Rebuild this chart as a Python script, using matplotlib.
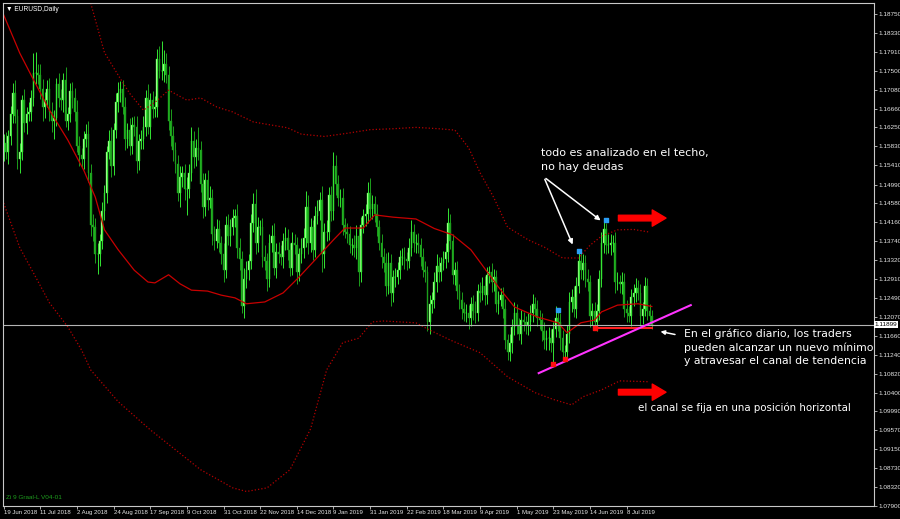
"import modules"
import numpy as np
import matplotlib.pyplot as plt

# =============================================================================
# Data (EURUSD daily, 19 Jun 2018 - Jul 2019)
# =============================================================================

# open of the first bar, then daily closes (one value per bar)
first_open = 1.1570
closes = [
    1.1590, 1.1570, 1.1605, 1.1655, 1.1700, 1.1650, 1.1555, 1.1570, 1.1685, 1.1635,
    1.1655, 1.1660, 1.1690, 1.1745, 1.1745, 1.1740, 1.1710, 1.1670, 1.1685, 1.1710,
    1.1660, 1.1640, 1.1645, 1.1720, 1.1690, 1.1685, 1.1730, 1.1640, 1.1655, 1.1705,
    1.1690, 1.1660, 1.1585, 1.1565, 1.1555, 1.1600, 1.1610, 1.1525, 1.1410, 1.1405,
    1.1345, 1.1345, 1.1375, 1.1440, 1.1480, 1.1570, 1.1595, 1.1540, 1.1620, 1.1680,
    1.1700, 1.1710, 1.1670, 1.1600, 1.1620, 1.1585, 1.1630, 1.1625, 1.1550, 1.1595,
    1.1600, 1.1625, 1.1690, 1.1625, 1.1685, 1.1665, 1.1670, 1.1775, 1.1750, 1.1750,
    1.1765, 1.1740, 1.1640, 1.1605, 1.1575, 1.1545, 1.1480, 1.1515, 1.1525, 1.1490,
    1.1490, 1.1525, 1.1595, 1.1560, 1.1580, 1.1575, 1.1500, 1.1450, 1.1510, 1.1465,
    1.1470, 1.1390, 1.1375, 1.1400, 1.1370, 1.1345, 1.1310, 1.1410, 1.1385, 1.1405,
    1.1425, 1.1430, 1.1360, 1.1335, 1.1230, 1.1290, 1.1310, 1.1330, 1.1415, 1.1455,
    1.1370, 1.1405, 1.1405, 1.1340, 1.1330, 1.1290, 1.1370, 1.1385, 1.1315, 1.1350,
    1.1345, 1.1340, 1.1375, 1.1380, 1.1355, 1.1315, 1.1370, 1.1365, 1.1305, 1.1345,
    1.1360, 1.1380, 1.1450, 1.1370, 1.1405, 1.1355, 1.1430, 1.1440, 1.1465, 1.1345,
    1.1395, 1.1395, 1.1475, 1.1440, 1.1540, 1.1500, 1.1470, 1.1470, 1.1410, 1.1395,
    1.1390, 1.1365, 1.1365, 1.1360, 1.1385, 1.1305, 1.1410, 1.1430, 1.1435, 1.1480,
    1.1445, 1.1455, 1.1435, 1.1405, 1.1370, 1.1340, 1.1325, 1.1275, 1.1325, 1.1260,
    1.1295, 1.1295, 1.1310, 1.1340, 1.1340, 1.1335, 1.1330, 1.1360, 1.1395, 1.1370,
    1.1370, 1.1365, 1.1340, 1.1310, 1.1305, 1.1195, 1.1235, 1.1245, 1.1285, 1.1320,
    1.1305, 1.1325, 1.1335, 1.1350, 1.1415, 1.1375, 1.1300, 1.1310, 1.1265, 1.1245,
    1.1225, 1.1215, 1.1215, 1.1205, 1.1235, 1.1220, 1.1215, 1.1265, 1.1260, 1.1275,
    1.1255, 1.1300, 1.1305, 1.1285, 1.1295, 1.1235, 1.1245, 1.1255, 1.1225, 1.1155,
    1.1130, 1.1150, 1.1185, 1.1215, 1.1190, 1.1170, 1.1200, 1.1195, 1.1190, 1.1195,
    1.1215, 1.1235, 1.1225, 1.1205, 1.1200, 1.1175, 1.1155, 1.1160, 1.1160, 1.1150,
    1.1180, 1.1205, 1.1195, 1.1160, 1.1130, 1.1130, 1.1170, 1.1240, 1.1250, 1.1225,
    1.1275, 1.1330, 1.1310, 1.1325, 1.1290, 1.1285, 1.1210, 1.1220, 1.1195, 1.1220,
    1.1290, 1.1370, 1.1400, 1.1365, 1.1365, 1.1370, 1.1370, 1.1285, 1.1285, 1.1280,
    1.1285, 1.1225, 1.1215, 1.1210, 1.1250, 1.1260, 1.1270, 1.1260, 1.1210, 1.1225,
    1.1275, 1.1220, 1.1210, 1.1190,
]

# wick lengths in pips above / below the candle body
upper_wick = [
    20, 25, 15, 18, 22, 30, 15, 20, 12, 25, 15, 20, 18, 45, 46, 20, 25, 22, 18, 20,
    25, 20, 18, 15, 25, 20, 15, 28, 15, 18, 20, 22, 25, 20, 15, 18, 22, 30, 20, 25,
    20, 25, 15, 20, 18, 15, 25, 30, 15, 20, 25, 18, 20, 22, 15, 25, 18, 20, 25, 15,
    20, 25, 18, 30, 15, 20, 25, 22, 30, 65, 30, 25, 20, 25, 22, 18, 20, 25, 15, 20,
    25, 20, 30, 22, 20, 45, 20, 25, 15, 20, 25, 20, 18, 22, 20, 15, 25, 20, 25, 18,
    20, 15, 25, 20, 18, 25, 20, 15, 20, 25, 35, 22, 15, 20, 25, 18, 20, 25, 30, 20,
    22, 20, 18, 25, 20, 15, 25, 20, 18, 15, 20, 22, 35, 25, 20, 15, 22, 25, 18, 30,
    20, 25, 18, 20, 30, 25, 20, 18, 22, 15, 20, 18, 15, 22, 25, 20, 18, 15, 20, 25,
    34, 20, 18, 22, 15, 20, 18, 22, 25, 20, 15, 20, 18, 15, 20, 22, 15, 20, 25, 18,
    20, 22, 15, 18, 20, 15, 20, 18, 22, 25, 20, 15, 18, 20, 33, 20, 15, 18, 20, 15,
    18, 15, 20, 18, 15, 20, 22, 15, 18, 20, 22, 18, 15, 20, 18, 15, 20, 15, 18, 22,
    15, 20, 18, 25, 20, 15, 22, 18, 15, 20, 18, 22, 15, 20, 18, 15, 20, 18, 25, 20,
    15, 25, 20, 20, 18, 15, 20, 22, 18, 25, 20, 18, 25, 20, 18, 22, 15, 18, 20, 15,
    20, 25, 22, 14, 25, 20, 18, 25, 20, 15, 22, 18, 20, 15, 18, 20, 22, 18, 20, 15,
    20, 18, 15, 12,
]
lower_wick = [
    20, 15, 25, 18, 20, 15, 22, 30, 18, 20, 25, 15, 20, 18, 25, 20, 22, 30, 25, 15,
    20, 25, 40, 18, 20, 22, 25, 15, 20, 18, 22, 20, 15, 25, 20, 22, 18, 20, 25, 30,
    20, 44, 25, 18, 20, 22, 15, 25, 20, 18, 22, 20, 15, 25, 20, 22, 18, 20, 25, 20,
    18, 22, 20, 15, 25, 20, 18, 22, 15, 20, 25, 18, 20, 22, 25, 20, 18, 30, 22, 25,
    58, 20, 18, 25, 20, 22, 18, 25, 20, 22, 18, 25, 20, 15, 20, 22, 25, 18, 20, 22,
    18, 20, 22, 25, 14, 25, 20, 22, 18, 20, 25, 20, 18, 22, 20, 25, 18, 20, 15, 22,
    20, 18, 25, 20, 22, 18, 15, 20, 25, 18, 20, 22, 18, 25, 20, 22, 15, 18, 20, 40,
    30, 20, 18, 22, 20, 25, 18, 20, 22, 15, 20, 18, 22, 20, 25, 30, 20, 18, 22, 20,
    20, 22, 18, 20, 15, 25, 20, 22, 18, 30, 20, 22, 15, 20, 18, 22, 20, 15, 18, 20,
    22, 18, 20, 15, 22, 19, 25, 20, 18, 22, 20, 18, 15, 20, 22, 18, 20, 22, 18, 20,
    22, 18, 20, 25, 18, 20, 22, 18, 20, 15, 22, 20, 18, 22, 20, 18, 22, 15, 20, 18,
    19, 20, 22, 18, 20, 15, 22, 18, 20, 22, 18, 20, 15, 18, 20, 22, 18, 20, 25, 20,
    44, 18, 20, 25, 20, 14, 18, 20, 22, 18, 20, 15, 20, 22, 18, 20, 25, 20, 14, 18,
    20, 18, 22, 20, 18, 22, 20, 25, 18, 20, 22, 18, 20, 15, 22, 18, 20, 15, 22, 18,
    15, 20, 18, 10,
]

# date labels of the time axis (one every 16 bars)
date_bars = [0, 16, 32, 48, 64, 80, 96, 112, 128, 144, 160, 176, 192, 208,
             224, 240, 256, 272]
date_labels = ["19 Jun 2018", "11 Jul 2018", "2 Aug 2018", "24 Aug 2018",
               "17 Sep 2018", "9 Oct 2018", "31 Oct 2018", "22 Nov 2018",
               "14 Dec 2018", "9 Jan 2019", "31 Jan 2019", "22 Feb 2019",
               "18 Mar 2019", "9 Apr 2019", "1 May 2019", "23 May 2019",
               "14 Jun 2019", "8 Jul 2019"]

# price scale labels
price_ticks = [1.18750, 1.18330, 1.17910, 1.17500, 1.17080, 1.16660, 1.16250,
               1.15830, 1.15410, 1.14990, 1.14580, 1.14160, 1.13740, 1.13320,
               1.12910, 1.12490, 1.12070, 1.11660, 1.11240, 1.10820, 1.10400,
               1.09990, 1.09570, 1.09150, 1.08730, 1.08320, 1.07900]
last_price = 1.11899

# red moving average (solid)
ma_bars = [0, 7, 13, 20, 28, 35, 40, 44, 50, 57, 63, 66, 72, 77, 82, 89, 95,
           101, 106, 114, 122, 129, 136, 144, 149, 157, 162, 170, 180, 188,
           196, 204, 216, 223, 233, 242, 246, 252, 258, 261, 268, 277, 283]
ma_vals = [1.1873, 1.1789, 1.1730, 1.1663, 1.1597, 1.1530, 1.1471, 1.1399,
           1.1355, 1.1310, 1.1284, 1.1282, 1.1300, 1.1280, 1.1266, 1.1264,
           1.1255, 1.1249, 1.1236, 1.1240, 1.1260, 1.1295, 1.1333, 1.1377,
           1.1403, 1.1403, 1.1432, 1.1427, 1.1423, 1.1402, 1.1388, 1.1355,
           1.1273, 1.1229, 1.1207, 1.1194, 1.1172, 1.1194, 1.1200, 1.1218,
           1.1233, 1.1236, 1.1230]

# upper and lower dotted channel
ub_bars = [38, 44, 50, 55, 61, 66, 72, 80, 86, 93, 100, 109, 117, 124, 130,
           140, 150, 160, 170, 180, 190, 197, 203, 208, 214, 220, 229, 236,
           244, 251, 256, 261, 268, 275, 282]
ub_vals = [1.1899, 1.1790, 1.1740, 1.1700, 1.1663, 1.1680, 1.1707, 1.1685,
           1.1690, 1.1670, 1.1659, 1.1637, 1.1630, 1.1624, 1.1610, 1.1605,
           1.1612, 1.1620, 1.1622, 1.1625, 1.1622, 1.1619, 1.1580, 1.1525,
           1.1470, 1.1405, 1.1377, 1.1361, 1.1337, 1.1337, 1.1365, 1.1385,
           1.1399, 1.1400, 1.1394]
lb_bars = [0, 7, 13, 20, 28, 34, 38, 50, 64, 86, 100, 106, 115, 125, 134, 141,
           148, 155, 161, 166, 180, 186, 195, 208, 220, 232, 240, 248, 253,
           261, 269, 282]
lb_vals = [1.1458, 1.1360, 1.1304, 1.1238, 1.1185, 1.1134, 1.1090, 1.1020,
           1.0958, 1.0870, 1.0830, 1.0822, 1.0830, 1.0870, 1.0960, 1.1090,
           1.1150, 1.1160, 1.1196, 1.1198, 1.1194, 1.1178, 1.1156, 1.1128,
           1.1075, 1.1040, 1.1025, 1.1013, 1.1031, 1.1046, 1.1066, 1.1064]

# fractal markers
top_bars = [242, 251, 263]
top_prices = [1.1222, 1.1352, 1.1420]
bottom_bars = [240, 245, 258]
bottom_prices = [1.1104, 1.1115, 1.1182]

# drawn lines: horizontal support and rising trend line
support_bars = [258, 283]
support_price = 1.1182
trend_bars = [233.6, 300]
trend_prices = [1.1083, 1.1233]

# =============================================================================
# Build the candles
# =============================================================================
closes = np.array(closes)
opens = np.r_[first_open, closes[:-1]]
highs = np.maximum(opens, closes) + np.array(upper_wick) * 0.0001
lows = np.minimum(opens, closes) - np.array(lower_wick) * 0.0001
bars = np.arange(len(closes))
up = closes >= opens

small_font = ["Liberation Sans Narrow", "Liberation Sans", "DejaVu Sans"]

fig = plt.figure(figsize=(9, 5.19), dpi=100, facecolor="black")
ax = fig.add_axes([3 / 900, 13 / 519, 871 / 900, 503 / 519], facecolor="black")

# wicks
ax.vlines(bars[up], lows[up], highs[up], color="#33e633", linewidth=0.7)
ax.vlines(bars[~up], lows[~up], highs[~up], color="#1c9e1c", linewidth=0.7)
# bodies
ax.bar(bars[up], closes[up] - opens[up], bottom=opens[up], width=0.75,
       color="#b8ffa0", edgecolor="#33e633", linewidth=0.3)
ax.bar(bars[~up], opens[~up] - closes[~up], bottom=closes[~up], width=0.75,
       color="#22b422", edgecolor="#1c9e1c", linewidth=0.3)

# indicator lines
ax.plot(ma_bars, ma_vals, color="#c80000", linewidth=0.9)
ax.plot(ub_bars, ub_vals, color="#b40000", linewidth=0.9, linestyle=":")
ax.plot(lb_bars, lb_vals, color="#b40000", linewidth=0.9, linestyle=":")

# current price line
ax.axhline(last_price, color="#b4b4b4", linewidth=0.8)

# fractal markers
ax.scatter(top_bars, top_prices, marker="s", s=7, color="#2a9df4", zorder=5)
ax.scatter(bottom_bars, bottom_prices, marker="s", s=7, color="#ff1010",
           zorder=5)

# support line and trend line
ax.plot(support_bars, [support_price, support_price], color="#ff2020",
        linewidth=1.5)
ax.plot(trend_bars, trend_prices, color="#ff33ff", linewidth=1.5,
        clip_on=False)

# =============================================================================
# Annotations
# =============================================================================
ax.text(234.5, 1.1579, "todo es analizado en el techo,\nno hay deudas",
        va="top", ha="left", linespacing=1.5, color="white", fontsize=8,
        family="DejaVu Sans")
for tip in [(248.9, 1.1361), (261.6, 1.1416)]:
    ax.annotate("", xy=tip, xytext=(235.8, 1.1516),
                arrowprops=dict(arrowstyle="-|>", color="white", lw=1.1,
                                mutation_scale=7))

ax.text(297, 1.1181, "En el gráfico diario, los traders\n"
        "pueden alcanzar un nuevo mínimo\ny atravesar el canal de tendencia",
        va="top", ha="left", linespacing=1.4, color="white", fontsize=7.8,
        family="DejaVu Sans")
ax.annotate("", xy=(285.6, 1.1176), xytext=(294.3, 1.1167),
            arrowprops=dict(arrowstyle="-|>", color="white", lw=1.1,
                            mutation_scale=6))

ax.text(276.9, 1.1006, "el canal se fija en una posición horizontal",
        va="center", ha="left", color="white", fontsize=7.4,
        family="DejaVu Sans")

# red arrows
for y in [1.1425, 1.1041]:
    ax.annotate("", xy=(290.4, y), xytext=(267.2, y),
                arrowprops=dict(arrowstyle="simple,head_length=1.1,"
                                "head_width=1.3,tail_width=0.45",
                                color="#ff0000", mutation_scale=9))

# chart name and indicator name
ax.text(0.004, 0.994, "\u25bc EURUSD,Daily", transform=ax.transAxes,
        va="top", ha="left", color="white", fontsize=4.8, family=small_font)
ax.text(0.003, 0.012, "Zi 9 Graal-L V04-01", transform=ax.transAxes,
        va="bottom", ha="left", color="#1e9e1e", fontsize=4.6,
        family=small_font)

# =============================================================================
# Axes styling
# =============================================================================
ax.set_xlim(-0.3, 380)
ax.set_ylim(1.0790, 1.18993)

ax.yaxis.tick_right()
ax.set_yticks(price_ticks)
ax.set_yticklabels(["%.5f" % p for p in price_ticks])
ax.set_xticks(date_bars)
ax.set_xticklabels(date_labels)
ax.tick_params(axis="both", colors="#c8c8c8", labelcolor="#e6e6e6",
               length=2, width=0.6, pad=1)
ax.tick_params(axis="y", labelsize=4.6)
ax.tick_params(axis="x", labelsize=4.3)
for label in ax.get_xticklabels() + ax.get_yticklabels():
    label.set_family(small_font)
for label in ax.get_xticklabels():
    label.set_ha("left")

for spine in ax.spines.values():
    spine.set_color("#c8c8c8")
    spine.set_linewidth(0.8)

# current price box on the price scale
ax.text(1.001, last_price, "%.5f" % last_price,
        transform=ax.get_yaxis_transform(), ha="left", va="center",
        fontsize=4.6, family=small_font, color="black",
        bbox=dict(facecolor="white", edgecolor="none", pad=0.6))

# save as png
plt.savefig("out.png", dpi=100, facecolor="black")
